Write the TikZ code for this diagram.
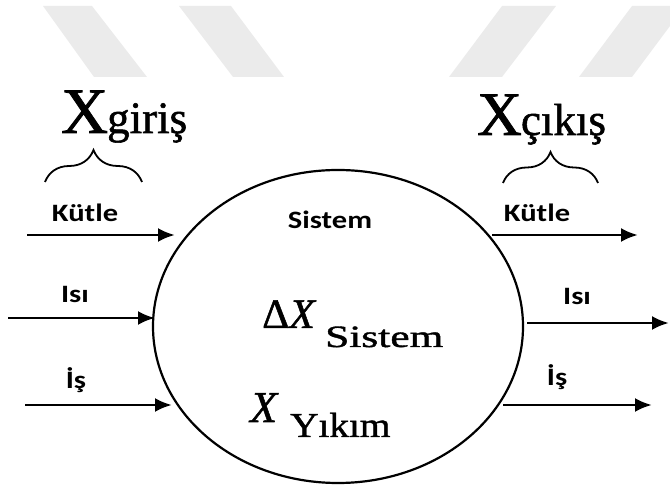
\documentclass[tikz,border=0pt]{standalone}
\usepackage{fontspec}
\usepackage{graphicx}
\setmainfont{Liberation Serif}[FakeBold=1.2]
\newfontfamily\labfont{Carlito}
\usetikzlibrary{arrows.meta,shapes.geometric,decorations.pathreplacing}
\definecolor{wm}{HTML}{EBEBEB}
\newcommand{\lbl}[1]{\scalebox{1.22}[1]{\labfont\bfseries\fontsize{25bp}{30bp}\selectfont #1}}
\begin{document}
\begin{tikzpicture}[x=1bp,y=1bp,
  flow/.style={line width=2.8bp,-{Latex[length=17bp,width=14bp]}},
  lab/.style={inner sep=0,anchor=base},
  head/.style={inner sep=0,anchor=base west},
  brc/.style={decorate,decoration={brace,amplitude=#1},line width=1.8bp},
  wmark/.style={fill=wm,draw=none}]
\useasboundingbox (0,0) rectangle (670,491);
% watermark stripes
\fill[wmark] (43,485) -- (92,485) -- (147,414) -- (94,414) -- cycle;
\fill[wmark] (179,485) -- (231,485) -- (284,414) -- (233,414) -- cycle;
\fill[wmark] (502,485) -- (556,485) -- (502,414) -- (449,414) -- cycle;
\fill[wmark] (632,485) -- (670,485) -- (670,465) -- (632,414) -- (579,414) -- cycle;
% system
\node[draw,ellipse,line width=2.2bp,minimum width=370bp,minimum height=313bp,inner sep=0] (sys) at (338,164.5) {};
\node[lab] (sislab) at (330,262) {\lbl{Sistem}};
\node[head] (dx) at (262,163) {\fontsize{42bp}{46bp}\selectfont Δ\textit{X}};
\node[head] (dxs) at (325,144) {\scalebox{1.4}[1]{\fontsize{31bp}{34bp}\selectfont Sistem}};
\node[head] (xy) at (250,69) {\fontsize{44bp}{48bp}\selectfont\textit{X}};
\node[head] (xys) at (290,54) {\scalebox{1.12}[1]{\fontsize{35bp}{38bp}\selectfont Yıkım}};
% headings
\node[head] (xin) at (61,358) {\fontsize{65bp}{70bp}\selectfont X\kern-1bp\fontsize{45bp}{50bp}\selectfont giriş};
\node[head] (xout) at (477,356) {\fontsize{62bp}{66bp}\selectfont X\kern-1bp\fontsize{45bp}{50bp}\selectfont çıkış};
% braces
\coordinate (bl1) at (45,309);
\coordinate (bl2) at (142,309);
\coordinate (br1) at (503,308);
\coordinate (br2) at (598,308);
\draw[brc=32bp] (bl1) -- (bl2);
\draw[brc=31bp] (br1) -- (br2);
% inflows
\coordinate (lk1) at (27,256);  \coordinate (lk2) at (175,256);
\coordinate (li1) at (8,173);   \coordinate (li2) at (155,173);
\coordinate (lw1) at (25,86);   \coordinate (lw2) at (172,86);
\draw[flow] (lk1) -- (lk2);
\draw[flow] (li1) -- (li2);
\draw[flow] (lw1) -- (lw2);
\node[lab] (lkt) at (85,269) {\lbl{Kütle}};
\node[lab] (lit) at (75,188) {\lbl{Isı}};
\node[lab] (lwt) at (76,102) {\lbl{İş}};
% outflows
\coordinate (rk1) at (492,256); \coordinate (rk2) at (638,256);
\coordinate (ri1) at (527,168); \coordinate (ri2) at (669,168);
\coordinate (rw1) at (503,86);  \coordinate (rw2) at (652,86);
\draw[flow] (rk1) -- (rk2);
\draw[flow] (ri1) -- (ri2);
\draw[flow] (rw1) -- (rw2);
\node[lab] (rkt) at (537,269) {\lbl{Kütle}};
\node[lab] (rit) at (577,186) {\lbl{Isı}};
\node[lab] (rwt) at (557,105) {\lbl{İş}};
\end{tikzpicture}
\end{document}
